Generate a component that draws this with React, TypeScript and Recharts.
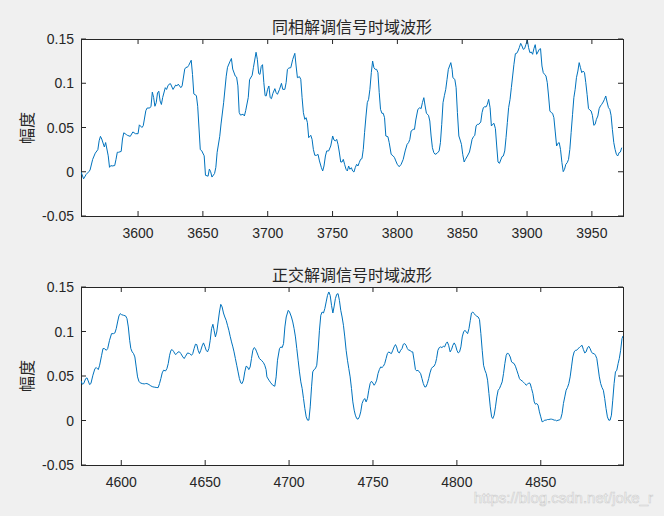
import { LineChart, Line, XAxis, YAxis } from 'recharts'

const AXIS = '#262626'
const LINE = '#0072bd'
const FONT = '"Liberation Sans", Arial, sans-serif'
const CJK = '"Noto Sans CJK SC", sans-serif'

const yTicks = [-0.05, 0, 0.05, 0.1, 0.15]
const topTicks = [3600, 3650, 3700, 3750, 3800, 3850, 3900, 3950]
const bottomTicks = [4600, 4650, 4700, 4750, 4800, 4850]

// 同相解调信号 (samples)
const topX = [
  3556, 3558, 3560, 3562, 3563, 3565, 3567, 3569, 3570, 3571, 3572, 3574, 3575, 3577, 3578, 3579, 3580, 3582, 3583, 3584,
  3585, 3587, 3588, 3589, 3591, 3592, 3594, 3596, 3598, 3600, 3601, 3603, 3604, 3606, 3607, 3609, 3610, 3611, 3612, 3613,
  3614, 3615, 3616, 3617, 3618, 3619, 3621, 3622, 3623, 3624, 3625, 3627, 3629, 3630, 3631, 3633, 3634, 3636, 3637, 3638,
  3639, 3641, 3642, 3643, 3645, 3646, 3648, 3649, 3651, 3652, 3654, 3655, 3656, 3657, 3659, 3660, 3661, 3663, 3664, 3666,
  3668, 3669, 3671, 3672, 3673, 3675, 3676, 3677, 3678, 3679, 3681, 3682, 3683, 3685, 3686, 3688, 3689, 3691, 3692, 3693,
  3694, 3695, 3696, 3697, 3698,
  3698.8, 3699.9, 3700.9, 3701.9, 3702.9, 3704, 3705.5, 3706.5, 3707.5, 3709.1, 3710.6, 3711.6, 3713.2, 3714.2, 3715.2,
  3716.3, 3717.8, 3719.3, 3720.9, 3721.9, 3722.9, 3724.5, 3725.5, 3726.5, 3727.5, 3728.6, 3729.6, 3730.6, 3731.6, 3733.2,
  3734.2, 3735.2, 3736.3, 3737.8, 3738.8, 3739.9, 3741.4, 3742.4, 3743.4, 3744.5, 3745.5, 3747, 3748.6, 3750.1, 3751.1,
  3752.2, 3753.2, 3754.2, 3755.2, 3756.3, 3757.3, 3758.3, 3759.3, 3760.4, 3761.4, 3762.4, 3763.4, 3764.5, 3765.5, 3766.5,
  3767.5, 3768.6, 3769.6, 3770.6, 3771.6, 3772.7, 3773.7, 3774.7, 3775.8, 3776.8, 3777.8, 3778.8, 3779.9, 3780.9, 3781.9,
  3782.9, 3784, 3785, 3786, 3787, 3788.1, 3789.1, 3790.1, 3791.1, 3792.7, 3793.7, 3795.2, 3796.8, 3797.8, 3798.8,
  3799.9, 3801.4, 3802.9, 3804.5, 3806, 3807.5, 3808.6, 3809.6, 3810.6, 3812.2, 3813.2, 3814.2, 3815.8, 3817.3, 3818.3,
  3819.3, 3820.4, 3821.4, 3822.4, 3824, 3825, 3826, 3827, 3828.1, 3829.1, 3830.6, 3832.2, 3833.2, 3834.2, 3835.2,
  3836.3, 3837.3, 3838.3, 3839.3,
  3841.2, 3842.2, 3842.8, 3844.3, 3845.3, 3846.3, 3847.4, 3848.4, 3849.4, 3850.4, 3851.5, 3852.5, 3854, 3855.6, 3856.6,
  3857.6, 3858.7, 3859.7, 3860.7, 3861.7, 3862.8, 3864.3, 3865.3, 3866.3, 3867.4, 3868.4, 3869.4, 3870.4, 3871.5, 3872.5,
  3873.5, 3874.5, 3875.6, 3876.6, 3877.6, 3878.7, 3879.7, 3880.7, 3881.7, 3882.8, 3883.8, 3884.8, 3885.8, 3886.9, 3887.9,
  3888.9, 3889.9, 3891, 3892, 3893, 3894, 3895.1, 3896.1, 3897.1, 3898.1, 3899.2, 3900.2, 3901.2, 3902.2, 3903.3,
  3904.3, 3905.3, 3906.3, 3907.4, 3908.4, 3909.4, 3910.4, 3911.5, 3912.5, 3913.5, 3914.6, 3915.6, 3916.6, 3917.6, 3918.7,
  3919.7, 3920.7, 3921.7, 3922.8, 3923.8, 3924.8, 3925.8, 3926.9, 3927.9, 3928.9, 3929.9, 3931, 3932, 3933, 3934,
  3935.1, 3936.1, 3937.1, 3938.1, 3939.2, 3940.2, 3941.2, 3942.2, 3943.3, 3944.3, 3945.3, 3946.3, 3947.4, 3948.4, 3949.4,
  3950.4, 3951.5, 3952.5, 3953.5, 3954.6, 3955.6, 3956.6, 3957.6, 3958.7, 3959.7, 3960.7, 3961.7, 3962.8, 3963.8, 3964.8,
  3965.8, 3966.9, 3967.9, 3968.9, 3969.9, 3971, 3972, 3973,
]
const topY = [
  0.000, -0.008, -0.003, 0.000, 0.002, 0.014, 0.021, 0.025, 0.035, 0.040, 0.037, 0.028, 0.033, 0.018, 0.005, 0.007, 0.0065, 0.007, 0.014, 0.022,
  0.022, 0.023, 0.037, 0.044, 0.042, 0.041, 0.040, 0.045, 0.043, 0.043, 0.053, 0.050, 0.052, 0.069, 0.072, 0.072, 0.074, 0.090, 0.084, 0.074,
  0.078, 0.089, 0.091, 0.080, 0.076, 0.084, 0.095, 0.093, 0.097, 0.099, 0.0995, 0.093, 0.098, 0.097, 0.099, 0.095, 0.097, 0.116, 0.118, 0.118,
  0.120, 0.126, 0.110, 0.088, 0.086, 0.074, 0.025, 0.024, 0.018, -0.004, -0.005, 0.003, 0.000, -0.006, -0.002, 0.005, 0.022, 0.040, 0.054, 0.078,
  0.108, 0.118, 0.125, 0.128, 0.116, 0.108, 0.107, 0.097, 0.067, 0.064, 0.065, 0.063, 0.069, 0.084, 0.104, 0.109, 0.118, 0.135, 0.127, 0.111,
  0.110, 0.119, 0.121, 0.101, 0.086,
  0.0856, 0.0931, 0.0969, 0.0837, 0.0826, 0.0886, 0.0939, 0.0894, 0.0875, 0.0931, 0.0999, 0.0931, 0.0931, 0.1007, 0.1157,
  0.1172, 0.1176, 0.127, 0.1338, 0.1195, 0.1063, 0.1074, 0.1044, 0.0837, 0.0668, 0.0592, 0.0611, 0.0555, 0.0385, 0.0412,
  0.0366, 0.0253, 0.0186, 0.0186, 0.0197, 0.0122, 0.0046, 0.0009, 0.0065, 0.0178, 0.0235, 0.0235, 0.0291, 0.0404, 0.0359,
  0.0348, 0.0366, 0.031, 0.0223, 0.011, 0.011, 0.014, 0.0084, 0.0028, 0.0009, 0.0065, 0.0028, 0.0046, 0.0009, -0.0003,
  0.0046, 0.0084, 0.0065, 0.0103, 0.014, 0.0148, 0.0253, 0.0442, 0.063, 0.0781, 0.0818, 0.0931, 0.112, 0.1251, 0.1176,
  0.1157, 0.1157, 0.112, 0.0894, 0.0705, 0.066, 0.066, 0.0611, 0.0404, 0.0396, 0.0329, 0.0197, 0.0178, 0.0159, 0.0122,
  0.0084, 0.0057, 0.0084, 0.014, 0.0235, 0.031, 0.0329, 0.0366, 0.046, 0.0479, 0.0479, 0.0585, 0.0705, 0.0724, 0.0713,
  0.0781, 0.0837, 0.0743, 0.066, 0.0638, 0.0573, 0.0404, 0.0272, 0.0216, 0.0197, 0.0208, 0.0235, 0.0329, 0.0536, 0.0781,
  0.0864, 0.0931, 0.1044, 0.1157,
  0.1233, 0.1157, 0.1063, 0.1044, 0.095, 0.0668, 0.0404, 0.0359, 0.031, 0.0197, 0.011, 0.014, 0.0178, 0.0223, 0.0291,
  0.0366, 0.0396, 0.0412, 0.0517, 0.0536, 0.0536, 0.0562, 0.0668, 0.0724, 0.0735, 0.0732, 0.0762, 0.0818, 0.0724, 0.0517,
  0.0536, 0.0547, 0.0487, 0.0291, 0.011, 0.0095, 0.0133, 0.0171, 0.0178, 0.0235, 0.0385, 0.0555, 0.0724, 0.0818, 0.095,
  0.1082, 0.1214, 0.1334, 0.1338, 0.1364, 0.1402, 0.1451, 0.1421, 0.1383, 0.1391, 0.144, 0.1489, 0.1402, 0.1346, 0.1353,
  0.1327, 0.1391, 0.1436, 0.1327, 0.1353, 0.1383, 0.1391, 0.1195, 0.112, 0.1101, 0.1082, 0.1007, 0.0856, 0.0687, 0.0668,
  0.066, 0.0611, 0.046, 0.0291, 0.0321, 0.0329, 0.0253, 0.0103, 0.0001, 0.0028, 0.0084, 0.0103, 0.014, 0.0253, 0.0442,
  0.0649, 0.0837, 0.0931, 0.1063, 0.1138, 0.1233, 0.1176, 0.112, 0.1138, 0.112, 0.1007, 0.0875, 0.0713, 0.0698, 0.0687,
  0.0638, 0.0525, 0.0536, 0.0592, 0.063, 0.0713, 0.0743, 0.0762, 0.0788, 0.0818, 0.0856, 0.0788, 0.0724, 0.0705, 0.0638,
  0.0479, 0.0329, 0.0253, 0.0197, 0.0178, 0.0216, 0.0223, 0.0272,
]

// 正交解调信号
const bottomX = [
  4576, 4576.8, 4577.6, 4578.8, 4579.6, 4580.3, 4581.1, 4581.9, 4583.1, 4584.3, 4585.1, 4586.3, 4587.1, 4588.3, 4589.1,
  4589.9, 4591.1, 4591.9, 4593, 4594.2, 4595.4, 4596.2, 4597, 4597.8, 4598.6, 4599.4, 4600.2, 4601.4, 4602.6, 4603.4,
  4604.2, 4605, 4605.7, 4606.5, 4607.3, 4608.1, 4608.9, 4609.7, 4610.5, 4611.3, 4612.5, 4613.7, 4614.5, 4615.3, 4616.5,
  4617.6, 4618.8, 4620, 4621.2, 4622, 4622.8, 4623.6, 4624.4, 4625.2, 4626.4, 4627.2, 4628, 4628.8, 4629.6, 4630.3,
  4631.1, 4632.3, 4633.1, 4633.9, 4634.7, 4635.5, 4636.7, 4637.5, 4638.3, 4639.5, 4640.7, 4641.9, 4642.6, 4643.4, 4644.2,
  4645, 4645.8, 4646.6, 4647.4, 4648.2, 4649, 4649.8, 4650.6, 4651.4, 4652.2, 4653, 4653.8, 4654.6, 4655.3, 4656.1,
  4656.9, 4657.7, 4658.5, 4659.3, 4660.1, 4660.9, 4661.7, 4662.5, 4663.3, 4664.1, 4664.9, 4665.7, 4666.5, 4667.2, 4668,
  4668.8, 4669.6, 4670.4, 4671.2, 4672, 4672.8, 4673.6, 4674.4, 4675.2, 4676, 4676.8, 4677.6, 4678.4, 4679.2, 4679.9,
  4680.7, 4681.5, 4682.3, 4683.5, 4684.7, 4685.5, 4686.3,
  4686.8, 4688, 4689.1, 4690.3, 4691.5, 4692.3, 4693.1, 4694.3, 4695.1, 4695.9, 4696.7, 4697.5, 4698.3, 4699.5, 4700.3,
  4701.4, 4702.2, 4703, 4703.8, 4704.6, 4705.4, 4706.2, 4707, 4707.8, 4708.6, 4709.4, 4710.2, 4711, 4711.8, 4712.6,
  4713.4, 4714.1, 4714.9, 4715.7, 4716.5, 4717.3, 4718.1, 4718.9, 4719.7, 4720.5, 4721.3, 4722.1, 4722.9, 4723.7, 4724.5,
  4725.3, 4726.1, 4726.8, 4727.6, 4728.4, 4729.2, 4730, 4730.8, 4731.6, 4732.4, 4733.2, 4734, 4734.8, 4735.6, 4736.4,
  4737.2, 4738, 4738.8, 4739.5, 4740.3, 4741.1, 4741.9, 4742.7, 4743.5, 4744.3, 4745.1, 4745.9, 4746.7, 4747.5, 4748.3,
  4749.1, 4749.9, 4750.7, 4751.4, 4752.2, 4753, 4753.8, 4754.6, 4755.4, 4756.2, 4757, 4757.8, 4758.6, 4759.4, 4760.2,
  4761, 4761.8, 4762.6, 4763.4, 4764.1, 4764.9, 4765.7, 4766.5, 4767.3, 4768.1, 4768.9, 4769.7, 4770.5, 4771.3, 4772.1,
  4772.9, 4773.7, 4774.5, 4775.3, 4776.1, 4776.8, 4777.6, 4778.4, 4779.2, 4780, 4780.8, 4781.6, 4782.4, 4783.2, 4784,
  4784.8, 4785.6, 4786.4, 4787.2, 4787.9, 4788.7, 4789.5, 4790.3, 4791.1, 4791.9, 4792.7, 4793.5, 4794.3, 4795.1,
  4796, 4796.8, 4797.6, 4798.4, 4799.2, 4800, 4800.8, 4801.6, 4802.4, 4803.2, 4804, 4804.8, 4805.6, 4806.4, 4807.2,
  4808, 4808.7, 4809.5, 4810.3, 4811.1, 4811.9, 4812.7, 4813.5, 4814.3, 4815.1, 4815.9, 4816.7, 4817.5, 4818.3, 4819.1,
  4819.9, 4820.7, 4821.4, 4822.2, 4823, 4823.8, 4824.6, 4825.4, 4826.2, 4827, 4827.8, 4828.6, 4829.4, 4830.2, 4831,
  4831.8, 4832.6, 4833.4, 4834.1, 4834.9, 4835.7, 4836.5, 4837.3, 4838.1, 4838.9, 4839.7, 4840.5, 4841.3, 4842.1, 4842.9,
  4843.7, 4844.5, 4845.3, 4846.1, 4846.8, 4847.6, 4848.4, 4849.2, 4850, 4850.8, 4851.6, 4852.4, 4853.2, 4854, 4854.8,
  4855.6, 4856.4, 4857.2, 4858, 4858.7, 4859.5, 4860.3, 4861.1, 4861.9, 4862.7, 4863.5, 4864.3, 4865.1, 4865.9, 4866.7,
  4867.5, 4868.3, 4869.1, 4869.9, 4870.7, 4871.4, 4872.2, 4873, 4873.8, 4874.6, 4875.4, 4876.2, 4877, 4877.8, 4878.6,
  4879.4, 4880.2, 4881, 4881.8, 4882.6, 4883.4, 4884.1, 4884.9, 4885.7, 4886.5, 4887.3, 4888.1, 4888.9, 4889.7, 4890.5,
  4891.3, 4892.1, 4892.9, 4893.7, 4894.5, 4895.3, 4896.1, 4896.8, 4897.6, 4898.4, 4899,
]
const bottomY = [
  0.0445, 0.0408, 0.0415, 0.0471, 0.0479, 0.0445, 0.0404, 0.0415, 0.0509, 0.0583, 0.0595, 0.0572, 0.0621, 0.0733, 0.0808,
  0.0808, 0.0789, 0.0808, 0.0901, 0.0976, 0.0976, 0.0984, 0.1032, 0.1107, 0.1175, 0.1201, 0.1189, 0.1182, 0.1175, 0.1145,
  0.1051, 0.0901, 0.0808, 0.0771, 0.0752, 0.0714, 0.0602, 0.049, 0.0441, 0.0423, 0.0415, 0.0411, 0.0415, 0.0415, 0.0404,
  0.0389, 0.0378, 0.0374, 0.037, 0.037, 0.0415, 0.0471, 0.0535, 0.0565, 0.0557, 0.0583, 0.064, 0.0733, 0.0789, 0.0797,
  0.0778, 0.0741, 0.0752, 0.0771, 0.0771, 0.0752, 0.0714, 0.0696, 0.0722, 0.0759, 0.0752, 0.0733, 0.0752, 0.0808, 0.0857,
  0.0853, 0.0789, 0.0752, 0.0789, 0.0838, 0.0872, 0.0834, 0.0789, 0.0771, 0.0808, 0.0901, 0.1032, 0.1081, 0.1014, 0.0939,
  0.0995, 0.1107, 0.1219, 0.1305, 0.1276, 0.1208, 0.1163, 0.1126, 0.107, 0.1014, 0.0946, 0.0883, 0.0827, 0.0771, 0.0696,
  0.0621, 0.0546, 0.0471, 0.0423, 0.0415, 0.0453, 0.0546, 0.061, 0.0602, 0.0572, 0.0602, 0.0696, 0.0789, 0.0819, 0.0808,
  0.0771, 0.0733, 0.0696, 0.0677, 0.0651, 0.0621, 0.0572,
  0.049, 0.0453, 0.0423, 0.0396, 0.0385, 0.049, 0.0677, 0.0808, 0.0827, 0.0819, 0.0864, 0.1051, 0.1163, 0.1238, 0.1219,
  0.1163, 0.1107, 0.1032, 0.0939, 0.0808, 0.0677, 0.0546, 0.0434, 0.0359, 0.0247, 0.0134, 0.0041, 0.0004, 0.0004, 0.0153,
  0.0378, 0.0546, 0.0572, 0.0583, 0.0621, 0.0789, 0.1014, 0.1182, 0.1219, 0.1208, 0.1257, 0.1332, 0.1406, 0.1444, 0.1406,
  0.1294, 0.1208, 0.1276, 0.1369, 0.1418, 0.1425, 0.135, 0.1238, 0.1163, 0.107, 0.0939, 0.0789, 0.0677, 0.0583, 0.049,
  0.0359, 0.0209, 0.0116, 0.006, 0.0022, 0.0015, 0.0041, 0.0097, 0.0191, 0.0228, 0.0247, 0.0209, 0.0247, 0.034, 0.0415,
  0.0441, 0.0423, 0.0396, 0.0415, 0.0453, 0.0527, 0.0572, 0.0602, 0.0595, 0.061, 0.064, 0.0696, 0.0752, 0.0771, 0.0759,
  0.0752, 0.0789, 0.0827, 0.0853, 0.0827, 0.0771, 0.0759, 0.0789, 0.0808, 0.0857, 0.0864, 0.0845, 0.0808, 0.0789, 0.0789,
  0.0771, 0.0771, 0.0677, 0.0572, 0.0557, 0.0565, 0.0546, 0.0527, 0.0471, 0.0415, 0.0378, 0.0378, 0.0415, 0.0471, 0.0535,
  0.0583, 0.0602, 0.061, 0.064, 0.0696, 0.0789, 0.0819, 0.0827, 0.0819, 0.0834, 0.0827, 0.0864, 0.0883, 0.0845,
  0.0771, 0.0797, 0.0845, 0.0872, 0.0845, 0.0789, 0.0759, 0.0771, 0.0827, 0.0939, 0.0995, 0.1014, 0.0995, 0.0976, 0.1032,
  0.1126, 0.1208, 0.1219, 0.1201, 0.1182, 0.1171, 0.1163, 0.1133, 0.0976, 0.0789, 0.0621, 0.0565, 0.0527, 0.0453, 0.0303,
  0.0153, 0.0041, 0.0022, 0.006, 0.0153, 0.0265, 0.034, 0.0359, 0.0396, 0.0434, 0.0527, 0.064, 0.0733, 0.0759, 0.0744,
  0.0714, 0.0658, 0.0647, 0.064, 0.061, 0.0565, 0.052, 0.0471, 0.0453, 0.0445, 0.043, 0.0415, 0.0396, 0.0408, 0.0423,
  0.0415, 0.0359, 0.0303, 0.0209, 0.0183, 0.0191, 0.0172, 0.0097, 0.0041, -0.0015, -0.0008, 0.0004, 0.0004, 0.0011, 0.0011,
  0.0015, 0.0015, 0.0011, 0.0004, 0.0004, -0.0004, 0.0004, 0.0004, 0.0022, 0.0078, 0.0191, 0.0265, 0.034, 0.037, 0.0415,
  0.049, 0.0602, 0.0714, 0.0771, 0.0789, 0.0789, 0.0808, 0.0819, 0.0834, 0.0845, 0.0797, 0.0759, 0.0771, 0.0815, 0.0834,
  0.0808, 0.0771, 0.0752, 0.0752, 0.0733, 0.0696, 0.0602, 0.049, 0.0415, 0.037, 0.034, 0.0247, 0.0134, 0.0041, 0.0004,
  0.0004, 0.006, 0.0228, 0.0415, 0.0546, 0.0565, 0.064, 0.0696, 0.0789, 0.092, 0.095,
]

const topData = topX.map((x, i) => ({ x, y: topY[i] }))
const bottomData = bottomX.map((x, i) => ({ x, y: bottomY[i] }))

const PLOT_LEFT = 81
const PLOT_RIGHT = 623

function XTick(props: any) {
  const { x, payload, top, bottom } = props
  return (
    <g>
      <line x1={x} x2={x} y1={bottom} y2={bottom - 5} stroke={AXIS} />
      <line x1={x} x2={x} y1={top} y2={top + 5} stroke={AXIS} />
      <text x={x} y={bottom + 22} textAnchor="middle" fill={AXIS} fontSize={14} fontFamily={FONT}>{payload.value}</text>
    </g>
  )
}

function YTick(props: any) {
  const { y, payload } = props
  return (
    <g>
      <line x1={PLOT_LEFT} x2={PLOT_LEFT + 5} y1={y} y2={y} stroke={AXIS} />
      <line x1={PLOT_RIGHT} x2={PLOT_RIGHT - 5} y1={y} y2={y} stroke={AXIS} />
      <text x={PLOT_LEFT - 7} y={y + 5} textAnchor="end" fill={AXIS} fontSize={14} fontFamily={FONT}>{payload.value}</text>
    </g>
  )
}

function Panel({ top, height, plotTop, plotBottom, data, domain, ticks }: any) {
  return (
    <div style={{ position: 'absolute', left: 0, top, width: 664, height }}>
      <div style={{
        position: 'absolute', left: PLOT_LEFT, top: plotTop, width: PLOT_RIGHT - PLOT_LEFT + 1,
        height: plotBottom - plotTop + 1, background: '#fff', border: `1px solid ${AXIS}`, boxSizing: 'border-box',
      }} />
      <div style={{ position: 'absolute', left: 0, top: 0 }}>
        <LineChart width={664} height={height} data={data}
          margin={{ top: plotTop, right: 664 - PLOT_RIGHT, bottom: 0, left: 0 }}>
          <XAxis type="number" dataKey="x" domain={domain} ticks={ticks} interval={0} allowDataOverflow
            height={height - plotBottom} axisLine={false} tickLine={false}
            tick={(p: any) => <XTick {...p} top={plotTop} bottom={plotBottom} />} />
          <YAxis type="number" domain={[-0.05, 0.15]} ticks={yTicks} interval={0} allowDataOverflow
            width={PLOT_LEFT} axisLine={false} tickLine={false} tick={(p: any) => <YTick {...p} />} />
          <Line type="linear" dataKey="y" stroke={LINE} strokeWidth={1} dot={false} isAnimationActive={false} />
        </LineChart>
      </div>
    </div>
  )
}

export default function App() {
  return (
    <div style={{ position: 'absolute', left: 0, top: 0, width: 664, height: 516, background: '#f0f0f0', overflow: 'hidden' }}>
      <Panel top={0} height={250} plotTop={39} plotBottom={216} data={topData} domain={[3556, 3974]} ticks={topTicks} />
      <Panel top={250} height={266} plotTop={37} plotBottom={215} data={bottomData} domain={[4576, 4899]} ticks={bottomTicks} />
      <svg width={664} height={516} style={{ position: 'absolute', left: 0, top: 0, pointerEvents: 'none' }}>
        <text x={352} y={33} textAnchor="middle" fill={AXIS} fontSize={16} fontFamily={CJK}>同相解调信号时域波形</text>
        <text x={352} y={281} textAnchor="middle" fill={AXIS} fontSize={16} fontFamily={CJK}>正交解调信号时域波形</text>
        <text x={33} y={128} textAnchor="middle" fill={AXIS} fontSize={16} fontFamily={CJK} transform="rotate(-90 33 128)">幅度</text>
        <text x={33} y={376} textAnchor="middle" fill={AXIS} fontSize={16} fontFamily={CJK} transform="rotate(-90 33 376)">幅度</text>
        <text x={653} y={503} textAnchor="end" fill="#fbfbfb" stroke="#cdcdcd" strokeWidth={0.6} fontSize={15} fontFamily={FONT}>https://blog.csdn.net/joke_r</text>
      </svg>
    </div>
  )
}
